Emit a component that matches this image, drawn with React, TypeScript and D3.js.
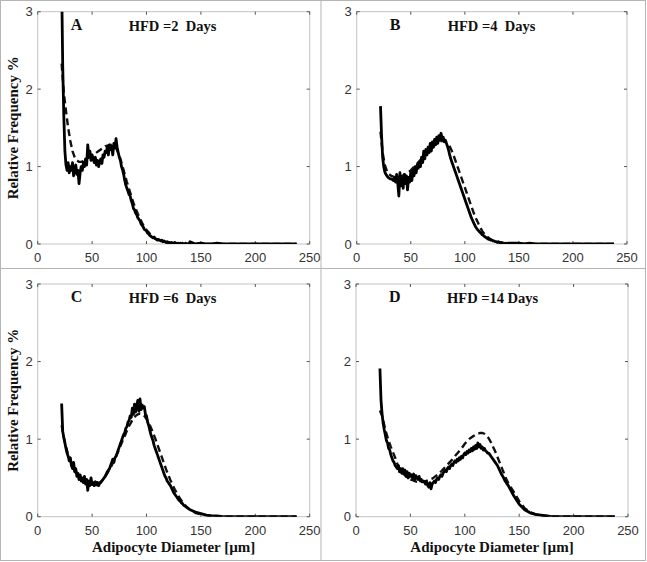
import React from 'react';
import * as d3 from 'd3';

// ---------- data ----------
const xTicks = [0, 50, 100, 150, 200, 250];
const yTicks = [0, 1, 2, 3];
const panelLetters = ['A', 'B', 'C', 'D'];
const panelTitles = ['HFD =2  Days', 'HFD =4  Days', 'HFD =6  Days', 'HFD =14 Days'];
const xLabel = 'Adipocyte Diameter [\u00B5m]';
const yLabel = 'Relative Frequency %';

// diameters (µm) of measured histogram (solid) and fitted model (dashed)
const solidFineX = d3.range(22, 140); // 22..139
const solidTailX = [140, 145, 150, 155, 160, 165, 170, 175, 180, 185, 190, 195, 200, 205, 210, 215, 220, 225, 230, 235, 238];
const dashFineX = d3.range(22, 141, 2); // 22..140
const dashTailX = [145, 150, 155, 160, 165, 170, 175, 180, 185, 190, 195, 200, 205, 210, 215, 220, 225, 230, 235, 238];

const solidA = [
  3.40, 2.30, 1.65, 1.20, 1.02, 0.95, 1.05, 0.92, 1.00, 0.95,
  1.05, 0.88, 0.98, 1.02, 0.90, 0.95, 0.78, 0.92, 1.00, 0.95,
  1.05, 1.00, 1.10, 1.02, 1.28, 1.12, 1.20, 1.08, 1.15, 1.10,
  1.05, 1.12, 1.02, 1.08, 1.00, 1.06, 1.10, 1.04, 1.15, 1.12,
  1.20, 1.18, 1.25, 1.15, 1.28, 1.22, 1.26, 1.15, 1.30, 1.24,
  1.36, 1.25, 1.18, 1.12, 1.08, 1.00, 0.96, 0.90, 0.82, 0.76,
  0.72, 0.68, 0.64, 0.62, 0.56, 0.52, 0.46, 0.44, 0.40, 0.38,
  0.34, 0.32, 0.30, 0.26, 0.24, 0.22, 0.19, 0.18, 0.17, 0.14,
  0.13, 0.11, 0.10, 0.09, 0.08, 0.09, 0.07, 0.06, 0.05, 0.06,
  0.05, 0.04, 0.05, 0.03, 0.04, 0.03, 0.02, 0.03, 0.02, 0.02,
  0.01, 0.02, 0.01, 0.01, 0.02, 0.01, 0.00, 0.01, 0.00, 0.01,
  0.00, 0.01, 0.00, 0.00, 0.01, 0.00, 0.00, 0.00,
];
const solidTailA = [0.03, 0.00, 0.01, 0.00, 0.00, 0.01, 0.00, 0.00, 0.00, 0.00, 0.00, 0.00, 0.00, 0.00, 0.00, 0.00, 0.00, 0.00, 0.00, 0.00, 0.00];
const dashA = [
  2.33, 1.95, 1.72, 1.50, 1.33, 1.20, 1.12, 1.08, 1.06, 1.06,
  1.07, 1.09, 1.11, 1.13, 1.15, 1.16, 1.18, 1.20, 1.22, 1.24,
  1.26, 1.27, 1.28, 1.28, 1.27, 1.24, 1.18, 1.10, 1.00, 0.90,
  0.80, 0.71, 0.62, 0.53, 0.46, 0.39, 0.33, 0.27, 0.22, 0.18,
  0.15, 0.12, 0.09, 0.07, 0.06, 0.04, 0.035, 0.03, 0.02, 0.015,
  0.01, 0.01, 0.008, 0.006, 0.005, 0.004, 0.003, 0.002, 0.002, 0.001,
];
const dashTailA = [0.001, 0.001, 0, 0, 0, 0, 0, 0, 0, 0, 0, 0, 0, 0, 0, 0, 0, 0, 0, 0];

const solidB = [
  1.78, 1.40, 1.12, 1.00, 0.93, 0.90, 0.88, 0.86, 0.85, 0.84,
  0.84, 0.83, 0.82, 0.85, 0.80, 0.90, 0.78, 0.62, 0.92, 0.75,
  0.85, 0.72, 0.90, 0.78, 0.88, 0.70, 0.86, 0.80, 0.92, 0.82,
  0.95, 0.88, 1.00, 0.92, 1.02, 0.98, 1.05, 1.00, 1.12, 1.05,
  1.20, 1.10, 1.22, 1.15, 1.25, 1.18, 1.30, 1.20, 1.32, 1.25,
  1.35, 1.28, 1.38, 1.30, 1.40, 1.34, 1.43, 1.36, 1.38, 1.32,
  1.34, 1.30, 1.26, 1.21, 1.15, 1.10, 1.06, 1.02, 0.98, 0.94,
  0.90, 0.86, 0.82, 0.78, 0.74, 0.70, 0.66, 0.62, 0.58, 0.54,
  0.50, 0.46, 0.42, 0.38, 0.34, 0.31, 0.28, 0.25, 0.22, 0.20,
  0.18, 0.17, 0.15, 0.14, 0.12, 0.11, 0.10, 0.09, 0.08, 0.07,
  0.06, 0.06, 0.05, 0.05, 0.04, 0.04, 0.03, 0.03, 0.02, 0.03,
  0.02, 0.01, 0.02, 0.01, 0.01, 0.00, 0.01, 0.00,
];
const solidTailB = [0.01, 0.01, 0.01, 0.00, 0.01, 0.00, 0.00, 0.00, 0.00, 0.00, 0.00, 0.00, 0.00, 0.00, 0.00, 0.00, 0.00, 0.00, 0.00, 0.00, 0.00];
const dashB = [
  1.45, 1.18, 1.02, 0.94, 0.90, 0.88, 0.87, 0.86, 0.86, 0.87,
  0.88, 0.89, 0.91, 0.93, 0.95, 0.98, 1.01, 1.04, 1.07, 1.10,
  1.13, 1.16, 1.19, 1.22, 1.25, 1.28, 1.30, 1.32, 1.33, 1.33,
  1.32, 1.30, 1.26, 1.20, 1.13, 1.05, 0.97, 0.89, 0.81, 0.73,
  0.65, 0.57, 0.49, 0.41, 0.34, 0.28, 0.22, 0.17, 0.13, 0.10,
  0.08, 0.06, 0.045, 0.035, 0.027, 0.02, 0.015, 0.01, 0.008, 0.006,
];
const dashTailB = [0.004, 0.002, 0.001, 0, 0, 0, 0, 0, 0, 0, 0, 0, 0, 0, 0, 0, 0, 0, 0, 0];

const solidC = [
  1.46, 1.10, 1.02, 0.95, 0.88, 0.82, 0.78, 0.72, 0.76, 0.66,
  0.62, 0.70, 0.58, 0.62, 0.52, 0.56, 0.48, 0.54, 0.46, 0.50,
  0.44, 0.52, 0.42, 0.48, 0.34, 0.46, 0.40, 0.50, 0.42, 0.44,
  0.40, 0.45, 0.41, 0.44, 0.40, 0.43, 0.44, 0.46, 0.48, 0.50,
  0.52, 0.55, 0.58, 0.60, 0.62, 0.66, 0.70, 0.74, 0.70, 0.76,
  0.78, 0.82, 0.86, 0.90, 0.94, 0.98, 1.02, 1.06, 1.08, 1.14,
  1.16, 1.22, 1.24, 1.30, 1.28, 1.40, 1.32, 1.45, 1.35, 1.42,
  1.50, 1.36, 1.52, 1.38, 1.44, 1.40, 1.42, 1.32, 1.30, 1.22,
  1.18, 1.12, 1.06, 1.02, 0.98, 0.92, 0.88, 0.84, 0.80, 0.76,
  0.72, 0.68, 0.64, 0.60, 0.56, 0.52, 0.50, 0.46, 0.44, 0.42,
  0.40, 0.37, 0.34, 0.31, 0.29, 0.27, 0.25, 0.23, 0.21, 0.20,
  0.18, 0.17, 0.15, 0.14, 0.13, 0.12, 0.11, 0.10,
];
const solidTailC = [0.09, 0.06, 0.04, 0.02, 0.01, 0.01, 0.00, 0.00, 0.00, 0.00, 0.00, 0.00, 0.00, 0.00, 0.00, 0.00, 0.00, 0.00, 0.00, 0.00, 0.00];
const dashC = [
  1.18, 1.02, 0.90, 0.80, 0.72, 0.65, 0.59, 0.54, 0.50, 0.47,
  0.45, 0.43, 0.42, 0.41, 0.41, 0.41, 0.42, 0.43, 0.45, 0.48,
  0.52, 0.56, 0.61, 0.66, 0.72, 0.78, 0.84, 0.91, 0.98, 1.04,
  1.11, 1.17, 1.22, 1.27, 1.30, 1.32, 1.33, 1.32, 1.30, 1.26,
  1.21, 1.15, 1.08, 1.01, 0.93, 0.85, 0.77, 0.69, 0.61, 0.54,
  0.47, 0.41, 0.35, 0.30, 0.25, 0.21, 0.17, 0.14, 0.11, 0.09,
];
const dashTailC = [0.05, 0.03, 0.02, 0.01, 0.006, 0.003, 0, 0, 0, 0, 0, 0, 0, 0, 0, 0, 0, 0, 0, 0];

const solidD = [
  1.91, 1.50, 1.32, 1.20, 1.12, 1.05, 0.98, 0.95, 0.88, 0.86,
  0.80, 0.76, 0.72, 0.70, 0.66, 0.64, 0.62, 0.66, 0.58, 0.62,
  0.56, 0.62, 0.55, 0.60, 0.52, 0.58, 0.50, 0.56, 0.52, 0.54,
  0.50, 0.55, 0.48, 0.53, 0.50, 0.48, 0.52, 0.46, 0.48, 0.45,
  0.46, 0.44, 0.42, 0.45, 0.40, 0.38, 0.44, 0.36, 0.42, 0.44,
  0.46, 0.44, 0.48, 0.50, 0.48, 0.52, 0.54, 0.52, 0.56, 0.58,
  0.60, 0.58, 0.62, 0.64, 0.62, 0.66, 0.68, 0.66, 0.70, 0.72,
  0.70, 0.74, 0.72, 0.76, 0.74, 0.78, 0.76, 0.80, 0.82, 0.80,
  0.84, 0.82, 0.86, 0.84, 0.88, 0.85, 0.90, 0.87, 0.92, 0.88,
  0.95, 0.90, 0.93, 0.88, 0.90, 0.86, 0.88, 0.85, 0.84, 0.82,
  0.82, 0.80, 0.78, 0.76, 0.74, 0.72, 0.70, 0.68, 0.66, 0.63,
  0.60, 0.57, 0.54, 0.52, 0.49, 0.46, 0.44, 0.42,
];
const solidTailD = [0.40, 0.27, 0.16, 0.09, 0.05, 0.03, 0.02, 0.01, 0.00, 0.00, 0.00, 0.00, 0.00, 0.00, 0.00, 0.00, 0.00, 0.00, 0.00, 0.00, 0.00];
const dashD = [
  1.37, 1.30, 1.18, 1.07, 0.98, 0.90, 0.83, 0.76, 0.68, 0.62,
  0.58, 0.55, 0.52, 0.50, 0.48, 0.47, 0.46, 0.45, 0.45, 0.45,
  0.45, 0.46, 0.47, 0.48, 0.49, 0.51, 0.53, 0.55, 0.58, 0.61,
  0.64, 0.67, 0.70, 0.73, 0.76, 0.80, 0.83, 0.87, 0.90, 0.94,
  0.97, 1.00, 1.02, 1.04, 1.06, 1.07, 1.08, 1.08, 1.07, 1.05,
  1.01, 0.96, 0.90, 0.84, 0.77, 0.70, 0.63, 0.56, 0.49, 0.43,
];
const dashTailD = [0.32, 0.20, 0.11, 0.06, 0.03, 0.02, 0.01, 0.005, 0, 0, 0, 0, 0, 0, 0, 0, 0, 0, 0, 0];

const solidSeries = [solidA.concat(solidTailA), solidB.concat(solidTailB), solidC.concat(solidTailC), solidD.concat(solidTailD)];
const dashSeries = [dashA.concat(dashTailA), dashB.concat(dashTailB), dashC.concat(dashTailC), dashD.concat(dashTailD)];
const solidX = solidFineX.concat(solidTailX);
const dashX = dashFineX.concat(dashTailX);

// ---------- layout ----------
const W = 647;
const H = 562;
const panels = [
  { left: 37.7, right: 309.7, top: 11.7, bottom: 244, yLab: true, xLab: false },
  { left: 356.7, right: 627, top: 11.7, bottom: 244, yLab: false, xLab: false },
  { left: 37.7, right: 309.7, top: 284, bottom: 516.7, yLab: true, xLab: true },
  { left: 356, right: 628, top: 284, bottom: 516.7, yLab: false, xLab: true },
];

const serif = '"Liberation Serif", "Times New Roman", serif';
const sans = '"Liberation Sans", Arial, sans-serif';

function Panel({ i }: { i: number }) {
  const p = panels[i];
  const x = d3.scaleLinear().domain([0, 250]).range([p.left, p.right]);
  const y = d3.scaleLinear().domain([0, 3]).range([p.bottom, p.top]);
  const solidPts = solidX.map((d, k) => [d, solidSeries[i][k]] as [number, number]).filter((d) => d[1] !== undefined);
  const dashPts = dashX.map((d, k) => [d, dashSeries[i][k]] as [number, number]).filter((d) => d[1] !== undefined);
  const line = d3.line<[number, number]>().x((d) => x(d[0])).y((d) => y(d[1]));
  const clipId = `clip${i}`;
  const tl = 3;
  const tickColor = '#555';
  const boxColor = '#c4c4c4';
  const cx = (p.left + p.right) / 2;
  const cy = (p.top + p.bottom) / 2;
  return (
    <g>
      <defs>
        <clipPath id={clipId}>
          <rect x={p.left} y={p.top} width={p.right - p.left} height={p.bottom - p.top} />
        </clipPath>
      </defs>
      <rect x={p.left} y={p.top} width={p.right - p.left} height={p.bottom - p.top} fill="none" stroke={boxColor} strokeWidth={1} />
      {xTicks.map((t) => (
        <g key={'x' + t}>
          <line x1={x(t)} x2={x(t)} y1={p.bottom} y2={p.bottom - tl} stroke={tickColor} />
          <line x1={x(t)} x2={x(t)} y1={p.top} y2={p.top + tl} stroke={tickColor} />
          <text x={x(t)} y={p.bottom + 18} textAnchor="middle" fontFamily={sans} fontSize={13} fill="#333">{t}</text>
        </g>
      ))}
      {yTicks.map((t) => (
        <g key={'y' + t}>
          <line x1={p.left} x2={p.left + tl} y1={y(t)} y2={y(t)} stroke={tickColor} />
          <line x1={p.right} x2={p.right - tl} y1={y(t)} y2={y(t)} stroke={tickColor} />
          <text x={p.left - 5} y={y(t) + 4.5} textAnchor="end" fontFamily={sans} fontSize={13} fill="#333">{t}</text>
        </g>
      ))}
      <g clipPath={`url(#${clipId})`}>
        <path d={line(dashPts) || ''} fill="none" stroke="#111" strokeWidth={2.4} strokeDasharray="7,4" />
        <path d={line(solidPts) || ''} fill="none" stroke="#000" strokeWidth={2.8} strokeLinejoin="round" />
      </g>
      <text x={p.left + 33} y={p.top + 17.8} fontFamily={serif} fontWeight="bold" fontSize={16} fill="#111">{panelLetters[i]}</text>
      <text x={p.left + 91} y={p.top + 19} fontFamily={serif} fontWeight="bold" fontSize={14.5} fill="#111" style={{ whiteSpace: 'pre' }}>{panelTitles[i]}</text>
      {p.yLab && (
        <text transform={`translate(17.5,${cy}) rotate(-90)`} textAnchor="middle" fontFamily={serif} fontWeight="bold" fontSize={15} fill="#111">{yLabel}</text>
      )}
      {p.xLab && (
        <text x={cx} y={552} textAnchor="middle" fontFamily={serif} fontWeight="bold" fontSize={15} fill="#111">{xLabel}</text>
      )}
    </g>
  );
}

export default function App() {
  return (
    <svg width={W} height={H} style={{ position: 'absolute', left: 0, top: 0, background: '#fff' }}>
      <rect x={0} y={0} width={W} height={H} fill="#fff" />
      <rect x={0.5} y={0.5} width={645} height={560} fill="none" stroke="#b5b5b5" />
      <line x1={321} x2={321} y1={0.5} y2={560.5} stroke="#b5b5b5" />
      <line x1={0.5} x2={645.5} y1={268.5} y2={268.5} stroke="#b5b5b5" />
      {panels.map((_, i) => <Panel key={i} i={i} />)}
    </svg>
  );
}
